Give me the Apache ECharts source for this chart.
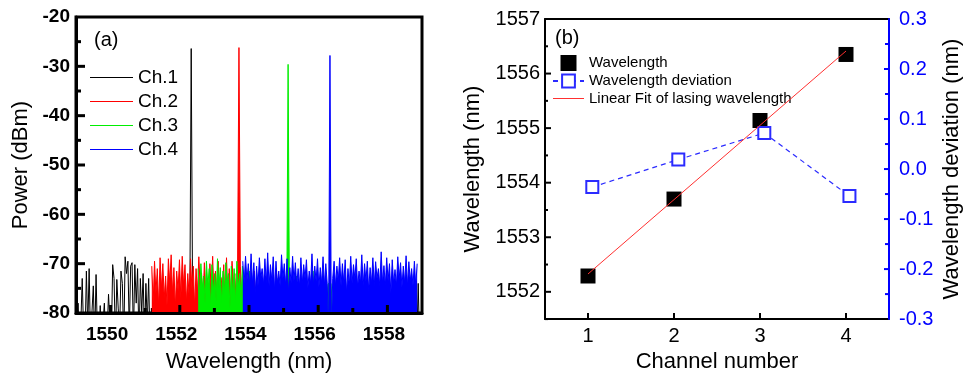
<!DOCTYPE html>
<html><head><meta charset="utf-8">
<script src="https://cdn.jsdelivr.net/npm/echarts@6/dist/echarts.min.js"></script>
<style>html,body{margin:0;padding:0;background:#fff}#c{width:967px;height:378px}</style>
</head><body><div id="c"></div>
<script>
// ---------------- Panel (a): lasing spectra ----------------
const STEP = 0.04; // nm sampling of the OSA trace
const ch1Segments = [
  { start: 1549.02, dbm: [
    -86, -78, -86, -82, -73, -84, -86, -71.5, -83, -71,
    -86, -80, -74.5, -86, -72.2, -85, -86, -78.5, -86, -86,
    -78, -86, -84, -76.2, -82, -86, -70.2, -73, -86, -73.2,
    -79, -84, -71.5, -74, -86, -68.6, -72, -69.5, -84, -70.5,
    -69.8, -85, -70.2, -78, -71, -86, -73, -80, -72, -86,
    -74, -82, -73, -86, -79, -86, -86 ] },
  { start: 1552.25, dbm: [-86, -78, -26.4, -78, -86] },
  { start: 1558.85, dbm: [-86, -74, -86] }
];
const ch2Segments = [
  { start: 1551.19, dbm: [
    -70.5, -78, -69.5, -76, -71, -79, -68.8, -75, -70, -77,
    -72.5, -78.5, -69, -74, -68.2, -76, -70.8, -79, -71.5, -75.5,
    -69.2, -77, -68.5, -74.5, -70.2, -78, -72, -76.5, -69, -75,
    -70.5, -79, -71, -76, -68.6, -75, -72, -78, -69.8, -76,
    -73, -79, -70, -75.5, -68.5, -77, -71.5, -76, -69.5, -78,
    -72.8, -75, -70.2, -79, -68.8, -76.5, -71, -77, -69.5, -75,
    -72, -78, -70, -26.2, -70.5, -77, -76, -79, -72, -79,
    -77, -79, -76.5, -79, -71.5, -79, -77, -79, -76, -79,
    -77.5, -79, -72.5, -79, -76, -79, -77, -79, -76.5, -79,
    -71, -79, -77, -79, -76, -79, -77.5, -79, -73, -79,
    -76.5, -79, -77, -79, -76, -79, -77.5, -79, -76, -79,
    -77, -79, -76.5, -79, -77, -79, -76, -79, -77 ] }
];
const ch3Segments = [
  { start: 1552.53, dbm: [
    -71, -77, -70, -75, -72.5, -78, -69.5, -74.5, -71, -79,
    -70.2, -76, -72, -77.5, -69, -75, -70.8, -78, -71.5, -76,
    -69.8, -74, -72, -79, -70.5, -76.5, -71, -78, -69.5, -75,
    -72, -77, -70.5, -77, -79, -76, -79, -71.5, -79, -77,
    -79, -76.5, -79, -77, -79, -72, -79, -76, -79, -77,
    -79, -76.5, -79, -77.5, -79, -76, -79, -73, -79, -77,
    -79, -76, -79, -77, -79, -29.6, -79, -76.5, -79, -77,
    -79, -72.5, -79, -76, -79, -77.5, -79, -76, -79, -77,
    -79, -76.5, -79, -71.5, -79, -77, -79, -76, -79, -77.5,
    -79, -76, -79, -76, -74, -74, -74, -79 ] }
];
const ch4Segments = [
  { start: 1553.82, dbm: [
    -69.5, -74, -68.5, -73.5, -70, -74.5, -68, -74, -69.8, -76,
    -70.5, -74.5, -68.8, -73, -71, -74.2, -69, -74, -67.8, -74.5,
    -70.2, -73.5, -68.6, -75.5, -69.5, -74, -71.5, -74.5, -68.2, -73,
    -70, -74.5, -69, -76, -70.8, -74, -68.5, -73.5, -69.8, -74.5,
    -71, -74.5, -68.8, -74, -70.2, -73, -69.2, -75, -71.5, -74,
    -68, -74.5, -70.5, -73.5, -69, -74.8, -70.8, -74, -68.6, -74.5,
    -70, -74, -84, -27.8, -84, -73, -69.5, -74.5, -70.5, -73.5,
    -68.8, -74.5, -70, -74, -69.2, -76, -71, -74.5, -68.5, -74,
    -70.2, -73, -69, -74.8, -71.5, -74, -68.2, -74.5, -70, -73.5,
    -69.5, -75.5, -70.8, -74, -68.8, -74.5, -69.6, -73, -71, -74.5,
    -67.6, -74, -70.4, -74.5, -68.8, -73.5, -70, -76, -69.2, -74,
    -71.2, -74.5, -68.6, -73, -69.8, -74.8, -70.5, -74, -68.4, -74.5,
    -69.6, -73.5, -71, -74.5, -69.5, -74.5, -70 ] }
];
const channelNames = ['Ch.1', 'Ch.2', 'Ch.3', 'Ch.4'];
const channelColors = ['#000000', '#ff0000', '#00ee00', '#0000ff'];
const xLabelsA = [1550, 1552, 1554, 1556, 1558];
const xMinorA = [1551, 1553, 1555, 1557];
const yMajorA = [-70, -60, -50, -40, -30];
const yMinorA = [-75, -65, -55, -45, -35, -25];

// ---------------- Panel (b): channel wavelengths ----------------
const channels = [1, 2, 3, 4];
const wavelength = [1552.29, 1553.70, 1555.14, 1556.35];
const devChannel = [1.05, 2.05, 3.05, 4.04];
const deviation = [-0.036, 0.019, 0.072, -0.054];
const yLabelsB = [1552, 1553, 1554, 1555, 1556, 1557];
const yMajorB = [1552, 1553, 1554, 1555, 1556];
const yMinorB = [1551.5, 1552.5, 1553.5, 1554.5, 1555.5, 1556.5];
const devMajor = [-0.2, -0.1, 0, 0.1, 0.2];
const devMinor = [-0.25, -0.15, -0.05, 0.05, 0.15, 0.25];

const FONT = "'Liberation Sans', Arial, Helvetica, sans-serif";
const plain = v => String(v);

function toData(segs) {
  const out = [];
  segs.forEach(s => s.dbm.forEach((v, i) => out.push([+(s.start + i * STEP).toFixed(3), v])));
  return out;
}
// inward tick marks positioned through the axis scales
function tickSeries(xIdx, yIdx, values, side, len, width, color) {
  return {
    type: 'custom', name: 'ticks', xAxisIndex: xIdx, yAxisIndex: yIdx, silent: true, z: 20, clip: false,
    data: values.map(v => side === 'bottom' ? [v, 0] : [0, v]),
    renderItem: (params, api) => {
      const cs = params.coordSys;
      const p = api.coord([api.value(0), api.value(1)]);
      let shape;
      if (side === 'bottom') { const y = cs.y + cs.height; shape = { x1: p[0], y1: y, x2: p[0], y2: y - len }; }
      else if (side === 'left') { const x = cs.x; shape = { x1: x, y1: p[1], x2: x + len, y2: p[1] }; }
      else { const x = cs.x + cs.width; shape = { x1: x, y1: p[1], x2: x - len, y2: p[1] }; }
      return { type: 'line', shape, style: { stroke: color, lineWidth: width } };
    }
  };
}
// least-squares linear fit of lasing wavelength vs channel
const n = channels.length;
const mx = channels.reduce((a, b) => a + b, 0) / n;
const my = wavelength.reduce((a, b) => a + b, 0) / n;
let sxy = 0, sxx = 0;
channels.forEach((x, i) => { sxy += (x - mx) * (wavelength[i] - my); sxx += (x - mx) * (x - mx); });
const slope = sxy / sxx, icpt = my - slope * mx;
const fitData = [channels[0], channels[n - 1]].map(x => [x, icpt + slope * x]);

const segsAll = [ch1Segments, ch2Segments, ch3Segments, ch4Segments];
const seriesA = segsAll.map((segs, k) => {
  const s = {
    name: channelNames[k], type: 'line', xAxisIndex: 0, yAxisIndex: 0,
    data: toData(segs), symbol: 'none', showSymbol: false, clip: true,
    lineStyle: { color: channelColors[k], width: 1 },
    itemStyle: { color: channelColors[k] }, z: 2 + k
  };
  if (k > 0) s.areaStyle = { color: channelColors[k], opacity: 1, origin: 'start' };
  return s;
});

const chart = echarts.init(document.getElementById('c'), null, { renderer: 'canvas' });
chart.setOption({
  animation: false,
  backgroundColor: '#fff',
  textStyle: { fontFamily: FONT },
  title: [
    { text: '(a)', left: 94, top: 30, padding: 0, textStyle: { fontSize: 20, fontWeight: 'normal', color: '#000', fontFamily: FONT } },
    { text: '(b)', left: 555, top: 28, padding: 0, textStyle: { fontSize: 20, fontWeight: 'normal', color: '#000', fontFamily: FONT } }
  ],
  legend: [
    { data: channelNames.map((nm, k) => ({ name: nm, icon: 'path://M0,0H43V1H0Z', itemStyle: { color: channelColors[k] } })),
      orient: 'vertical', left: 90, top: 68, padding: 0, itemWidth: 43, itemHeight: 14, itemGap: 5,
      textStyle: { fontSize: 19, color: '#000', fontFamily: FONT } },
    { data: [ { name: 'Wavelength', icon: 'path://M0,0H1V1H0Z', itemStyle: { color: '#000', opacity: 1 } },
              { name: 'Wavelength deviation' },
              { name: 'Linear Fit of lasing wavelength', icon: 'path://M0,0H31V1H0Z', itemStyle: { color: '#ff3030' } } ],
      orient: 'vertical', left: 552, top: 55, padding: 0, itemWidth: 31, itemHeight: 16, itemGap: 2.5,
      textStyle: { fontSize: 15, color: '#000', fontFamily: FONT } }
  ],
  grid: [
    { left: 76, top: 17, width: 346, height: 299, show: true, borderColor: '#000', borderWidth: 3, backgroundColor: 'transparent' },
    { left: 545, top: 19, width: 344, height: 307, show: false }
  ],
  xAxis: [
    { gridIndex: 0, type: 'value', min: 1549, max: 1559, position: 'bottom', z: 10,
      axisLine: { show: true, onZero: false, lineStyle: { color: '#000', width: 3 } },
      axisTick: { show: false },
      axisLabel: { show: true, customValues: xLabelsA, formatter: plain, margin: 12, padding: [0, 7, 0, 0],
        fontSize: 19, fontWeight: 'bold', color: '#000', fontFamily: FONT },
      splitLine: { show: false },
      name: 'Wavelength (nm)', nameLocation: 'middle', nameGap: 38,
      nameTextStyle: { fontSize: 22, color: '#000', fontFamily: FONT } },
    { gridIndex: 1, type: 'value', min: 0.5, max: 4.5, position: 'bottom',
      axisLine: { show: true, onZero: false, lineStyle: { color: '#000', width: 2 } },
      axisTick: { show: false },
      axisLabel: { show: true, customValues: channels, formatter: plain, margin: 7, fontSize: 20, color: '#000', fontFamily: FONT },
      splitLine: { show: false },
      name: 'Channel number', nameLocation: 'middle', nameGap: 30,
      nameTextStyle: { fontSize: 22, color: '#000', fontFamily: FONT } },
    { gridIndex: 1, type: 'value', min: 0.5, max: 4.5, position: 'top',
      axisLine: { show: true, onZero: false, lineStyle: { color: '#000', width: 2 } },
      axisTick: { show: false }, axisLabel: { show: false }, splitLine: { show: false } }
  ],
  yAxis: [
    { gridIndex: 0, type: 'value', min: -80, max: -20, interval: 10, position: 'left', z: 10,
      axisLine: { show: true, onZero: false, lineStyle: { color: '#000', width: 3 } },
      axisTick: { show: false },
      axisLabel: { margin: 6, fontSize: 19, fontWeight: 'bold', color: '#000', fontFamily: FONT },
      splitLine: { show: false },
      name: 'Power (dBm)', nameLocation: 'middle', nameRotate: 90, nameGap: 44,
      nameTextStyle: { fontSize: 22, color: '#000', fontFamily: FONT } },
    { gridIndex: 1, type: 'value', min: 1551.5, max: 1557, position: 'left',
      axisLine: { show: true, onZero: false, lineStyle: { color: '#000', width: 2 } },
      axisTick: { show: false },
      axisLabel: { show: true, customValues: yLabelsB, formatter: plain, margin: 5, fontSize: 20, color: '#000', fontFamily: FONT },
      splitLine: { show: false },
      name: 'Wavelength (nm)', nameLocation: 'middle', nameRotate: 90, nameGap: 61,
      nameTextStyle: { fontSize: 22, color: '#000', fontFamily: FONT } },
    { gridIndex: 1, type: 'value', min: -0.3, max: 0.3, interval: 0.1, position: 'right', z: 10,
      axisLine: { show: true, onZero: false, lineStyle: { color: '#0000ff', width: 2 } },
      axisTick: { show: false },
      axisLabel: { margin: 10, fontSize: 20, color: '#0000ff', fontFamily: FONT,
        formatter: v => (Math.abs(v) < 1e-9 ? 0 : v).toFixed(1) },
      splitLine: { show: false },
      name: 'Wavelength deviation (nm)', nameLocation: 'middle', nameRotate: 90, nameGap: 52,
      nameTextStyle: { fontSize: 22, color: '#000', fontFamily: FONT } }
  ],
  series: seriesA.concat([
    { name: 'Wavelength', type: 'scatter', xAxisIndex: 1, yAxisIndex: 1,
      data: channels.map((x, i) => [x, wavelength[i]]),
      symbol: 'rect', symbolSize: 15, itemStyle: { color: '#000', opacity: 1 }, z: 3 },
    { name: 'Wavelength deviation', type: 'line', xAxisIndex: 1, yAxisIndex: 2,
      data: devChannel.map((x, i) => [x, deviation[i]]),
      symbol: 'emptyRect', symbolSize: 12, showSymbol: true,
      lineStyle: { color: '#2b2bff', width: 1.2, type: [5, 4] },
      itemStyle: { color: '#2b2bff', borderWidth: 1.5 }, z: 4 },
    { name: 'Linear Fit of lasing wavelength', type: 'line', xAxisIndex: 1, yAxisIndex: 1,
      data: fitData, symbol: 'none', showSymbol: false,
      lineStyle: { color: '#ff3030', width: 1 }, itemStyle: { color: '#ff3030' }, z: 5 },
    tickSeries(0, 0, xLabelsA, 'bottom', 8, 3, '#000'),
    tickSeries(0, 0, xMinorA, 'bottom', 5, 3, '#000'),
    tickSeries(0, 0, yMajorA, 'left', 9, 3, '#000'),
    tickSeries(0, 0, yMinorA, 'left', 5, 3, '#000'),
    tickSeries(1, 1, channels, 'bottom', 6, 2, '#000'),
    tickSeries(1, 1, yMajorB, 'left', 6, 2, '#000'),
    tickSeries(1, 1, yMinorB, 'left', 3, 2, '#000'),
    tickSeries(1, 2, devMajor, 'right', 5, 2, '#0000ff'),
    tickSeries(1, 2, devMinor, 'right', 4, 2, '#0000ff')
  ])
});
</script>
</body></html>
